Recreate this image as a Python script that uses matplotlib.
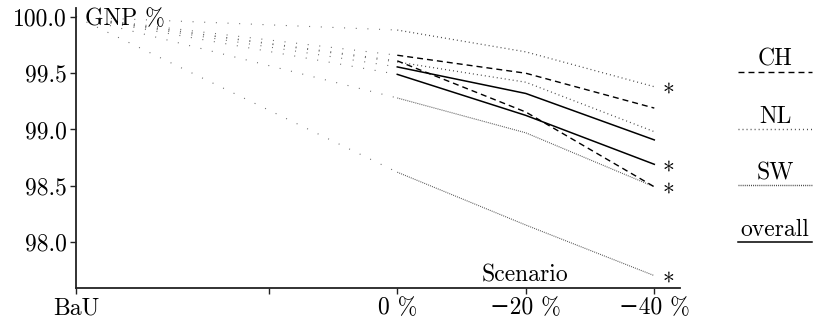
import matplotlib
matplotlib.use("Agg")
import matplotlib.pyplot as plt
from matplotlib.lines import Line2D

plt.rcParams['font.family'] = ['cmr10', 'DejaVu Serif']
plt.rcParams['lines.scale_dashes'] = False
plt.rcParams['axes.unicode_minus'] = False

# ---- data ----
scenario_labels = ['BaU', '0 %', '−20 %', '−40 %']
scenario_pos = [-2.5, 0, 1, 2]
bau_value = 100.0

ch_upper = [99.66, 99.50, 99.19]
ch_lower = [99.61, 99.155, 98.49]
nl_upper = [99.884, 99.69, 99.38]
nl_lower = [99.60, 99.42, 98.98]
sw_upper = [99.28, 98.97, 98.49]
sw_lower = [98.62, 98.15, 97.70]
overall_upper = [99.556, 99.32, 98.907]
overall_lower = [99.49, 99.125, 98.69]

starred = [nl_upper, overall_lower, ch_lower, sw_lower]

yticks = [98.0, 98.5, 99.0, 99.5, 100.0]

# ---- styles ----
DASH_CH = (0, (4.3, 2.9))
DOT_NL = (0, (0.7, 2.2))
DOT_SW = (0, (0.7, 0.8))
DOT_CONN = (0, (0.7, 7.7))
FS = 17

series = [
    (nl_upper, DOT_NL, 0.9, '#444444'),
    (nl_lower, DOT_NL, 0.9, '#444444'),
    (sw_upper, DOT_SW, 0.8, '#555555'),
    (sw_lower, DOT_SW, 0.8, '#555555'),
    (ch_upper, DASH_CH, 1.0, 'black'),
    (ch_lower, DASH_CH, 1.0, 'black'),
    (overall_upper, '-', 1.1, 'black'),
    (overall_lower, '-', 1.1, 'black'),
]

fig = plt.figure(figsize=(8.14, 3.25), dpi=100)
ax = fig.add_axes([76 / 814, 1 - 288 / 325, (680 - 76) / 814, (288 - 8) / 325])

xs = scenario_pos[1:]
for vals, ls, lw, col in series:
    # connector from BaU
    ax.plot([scenario_pos[0], xs[0]], [bau_value, vals[0]], linestyle=DOT_CONN,
            lw=0.8, color='#666666')
    ax.plot(xs, vals, linestyle=ls, lw=lw, color=col)

for vals in starred:
    ax.text(2.06, vals[-1] - 0.08, '*', ha='left', va='center', fontsize=FS)

ax.set_xlim(-2.5, 2.2)
ax.set_ylim(97.59, 100.08)
ax.set_xticks([-1] + scenario_pos)
ax.set_xticklabels([''] + scenario_labels)
ax.set_yticks(yticks)
ax.set_yticklabels([f'{v:.1f}' for v in yticks])
for s in ['top', 'right']:
    ax.spines[s].set_visible(False)
for s in ['left', 'bottom']:
    ax.spines[s].set_linewidth(1.3)
    ax.spines[s].set_color('#222222')
ax.tick_params(axis='both', labelsize=FS, length=4, width=1.0, color='#222222', pad=2.5)

ax.text(-2.43, 100.08, 'GNP %', ha='left', va='top', fontsize=FS)
ax.text(1.33, 97.60, 'Scenario', ha='right', va='bottom', fontsize=FS)

# ---- legend (drawn manually on the figure) ----
legend = [('CH', DASH_CH, 72, 65), ('NL', DOT_NL, 129, 123),
          ('SW', DOT_SW, 185, 180), ('overall', '-', 242, 236)]
for name, ls, ly, ty in legend:
    fig.text(775 / 814, 1 - ty / 325, name, ha='center', va='baseline', fontsize=FS)
    fig.add_artist(Line2D([738 / 814, 812 / 814], [1 - ly / 325] * 2,
                          transform=fig.transFigure, linestyle=ls,
                          lw=1.0 if ls != '-' else 1.1,
                          color='black' if ls in ('-', DASH_CH) else '#444444'))

fig.savefig('out.png', dpi=100)
